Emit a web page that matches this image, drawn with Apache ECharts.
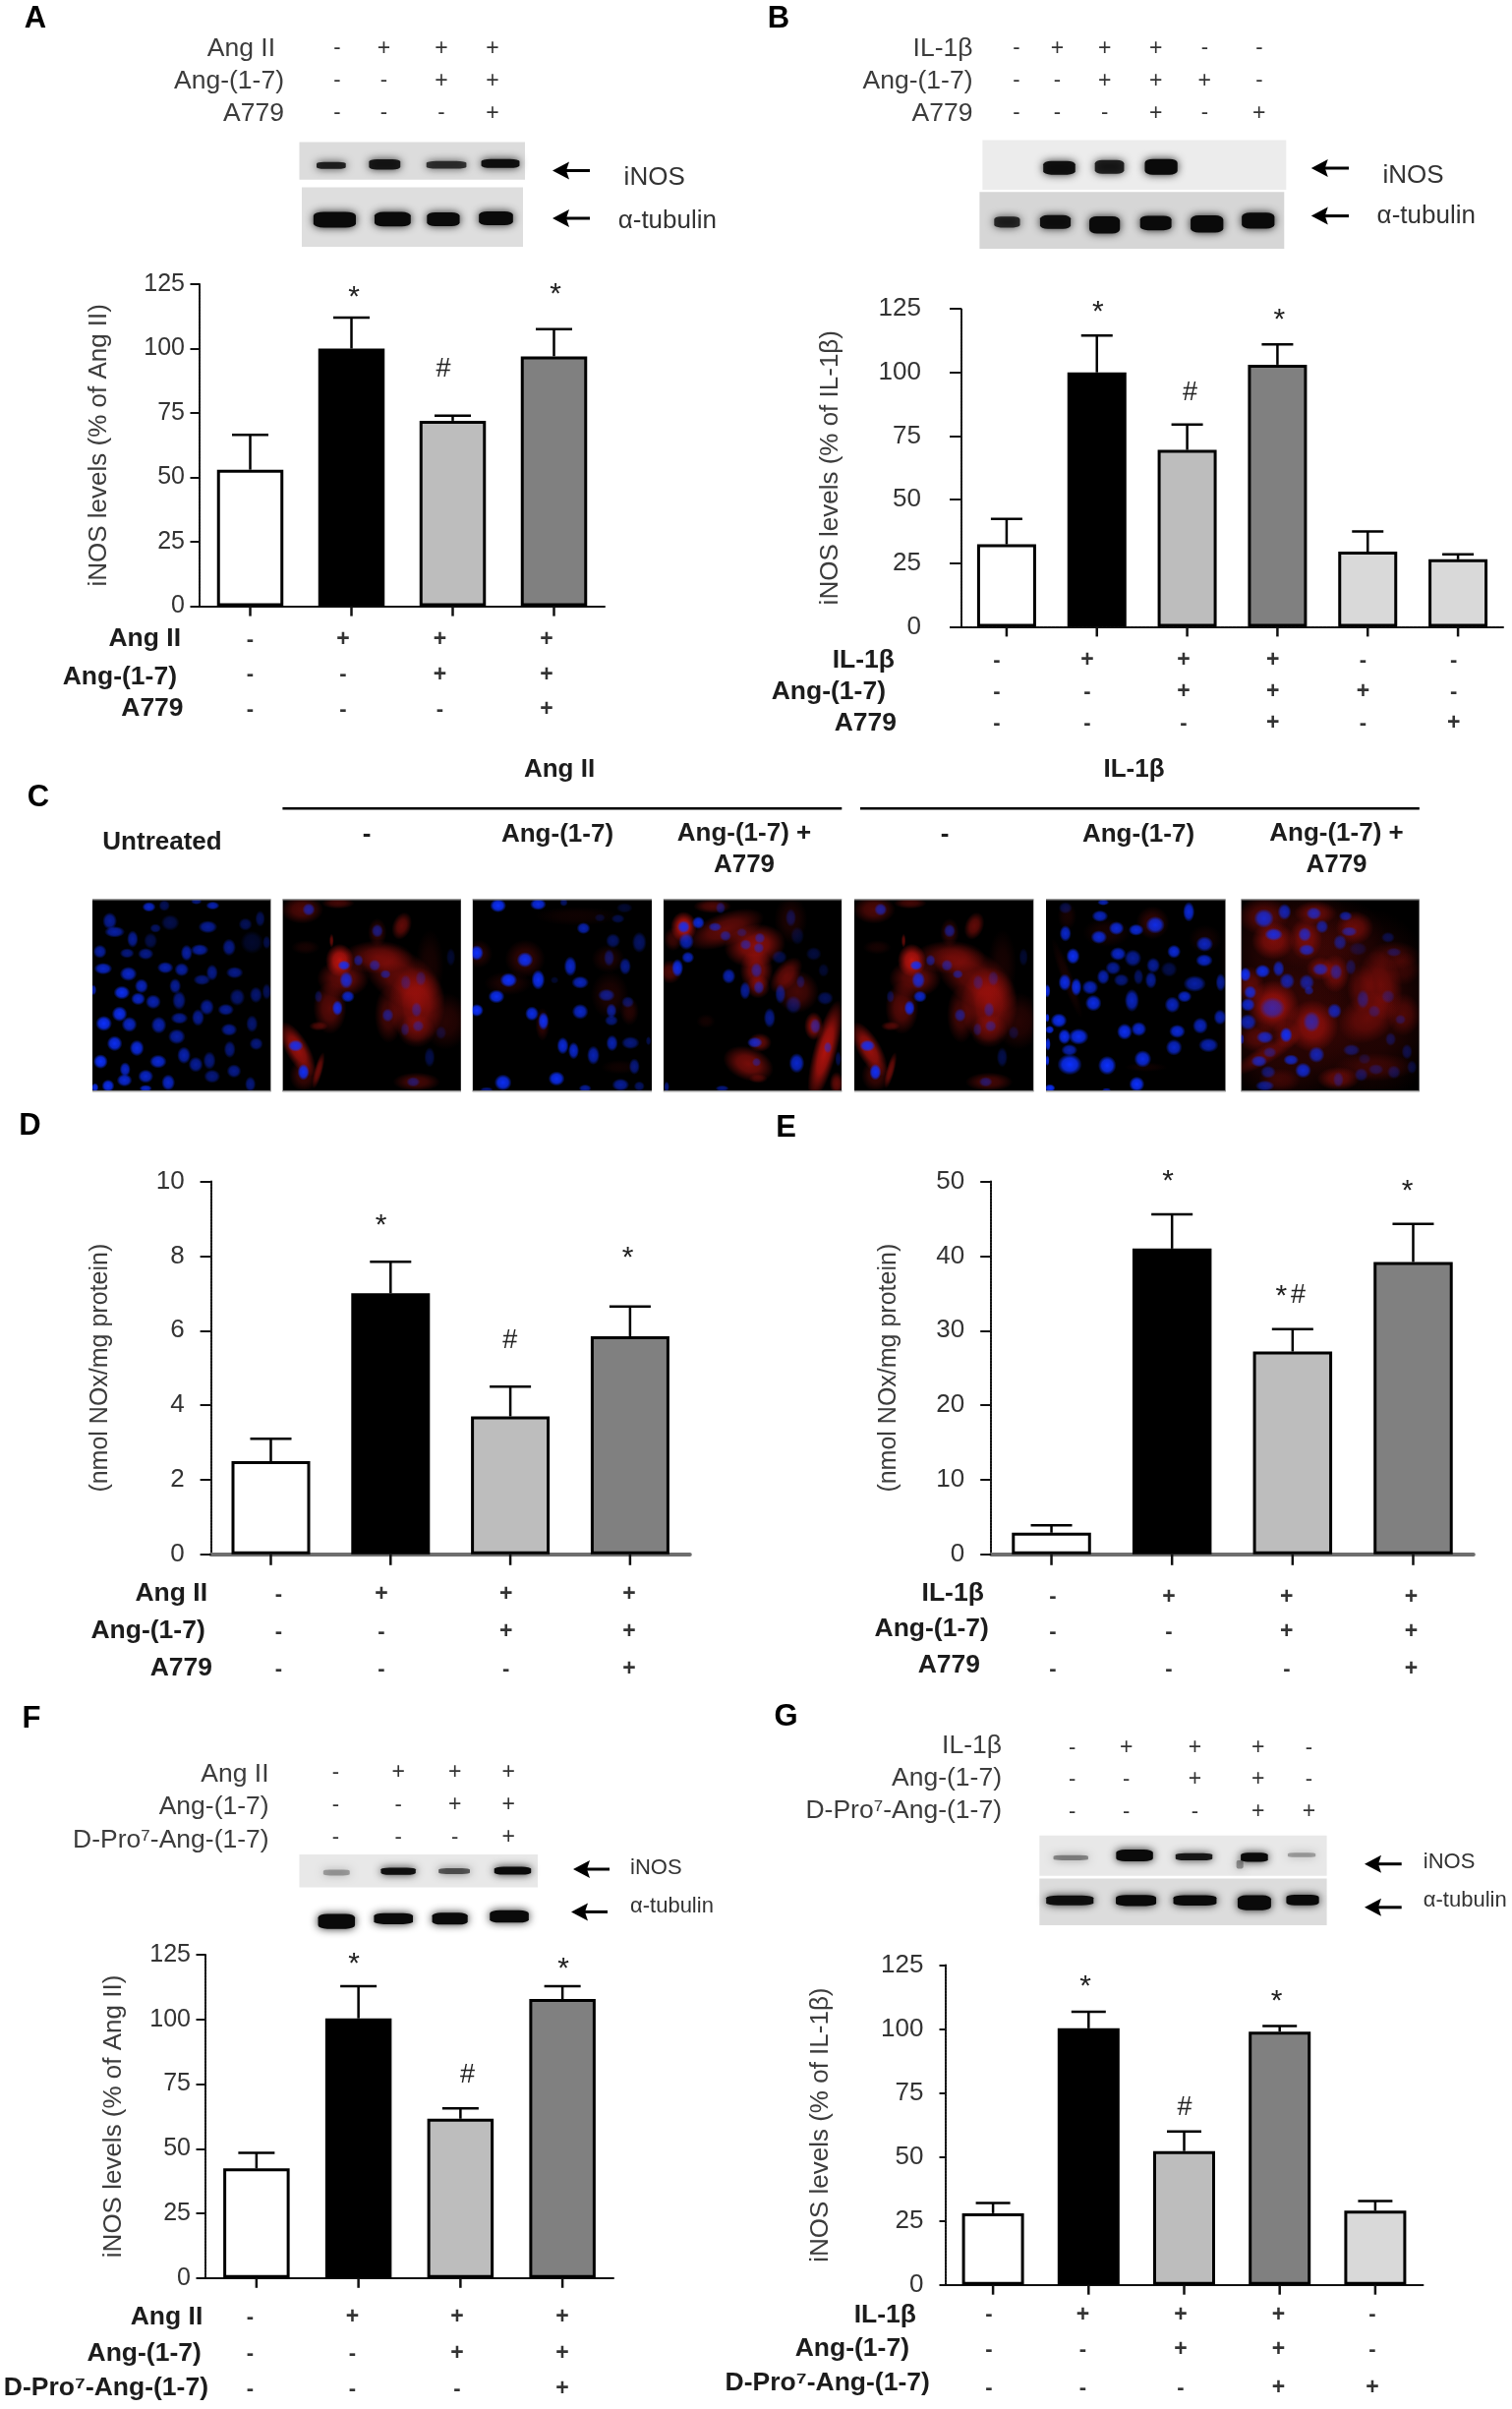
<!DOCTYPE html>
<html><head><meta charset="utf-8"><style>html,body{margin:0;padding:0;background:#fff}#c{width:1538px;height:2450px}</style>
<script src="https://cdn.jsdelivr.net/npm/echarts@6/dist/echarts.min.js"></script></head>
<body><div id="c"></div>
<script>
// ---------- DATA ----------
const categoriesAng = ['Untreated','Ang II','Ang II + Ang-(1-7)','Ang II + Ang-(1-7) + A779'];
const categoriesIl = ['Untreated','IL-1β','IL-1β + Ang-(1-7)','IL-1β + Ang-(1-7) + A779'];
const categoriesB = ['Untreated','IL-1β','IL-1β + Ang-(1-7)','IL-1β + Ang-(1-7) + A779','Ang-(1-7)','A779'];
const categoriesF = ['Untreated','Ang II','Ang II + Ang-(1-7)','Ang II + Ang-(1-7) + D-Pro7'];
const categoriesG = ['Untreated','IL-1β','IL-1β + Ang-(1-7)','IL-1β + Ang-(1-7) + D-Pro7','D-Pro7'];

const valuesA = [53, 100, 72, 97];
const errorTopA = [66.5, 112, 74, 107.5];
const valuesB = [32.4, 100, 69.5, 103, 29.5, 26.5];
const errorTopB = [42.4, 114.5, 79.5, 111, 37.5, 28.5];
const valuesD = [2.5, 7.0, 3.7, 5.85];
const errorTopD = [3.1, 7.85, 4.5, 6.65];
const valuesE = [2.9, 41, 27.2, 39.2];
const errorTopE = [3.9, 45.6, 30.2, 44.3];
const valuesF = [42.4, 100.4, 61.6, 107.9];
const errorTopF = [48.4, 112.8, 65.6, 112.8];
const valuesG = [28, 100.3, 52.3, 99, 29];
const errorTopG = [32, 106.8, 60, 101.2, 32.8];

const barColorsB = ['#ffffff','#000000','#bdbdbd','#808080','#d9d9d9','#d9d9d9'];

const rowsAng = ['Ang II','Ang-(1-7)','A779'];
const rowsIl = ['IL-1β','Ang-(1-7)','A779'];
const rowsAngPro = ['Ang II','Ang-(1-7)','D-Pro⁷-Ang-(1-7)'];
const rowsIlPro = ['IL-1β','Ang-(1-7)','D-Pro⁷-Ang-(1-7)'];
const signs4 = [['-','+','+','+'],['-','-','+','+'],['-','-','-','+']];
const signs6 = [['-','+','+','+','-','-'],['-','-','+','+','+','-'],['-','-','-','+','-','+']];
const signs5 = [['-','+','+','+','-'],['-','-','+','+','-'],['-','-','-','+','+']];

// ---------- western blot bands: x, y, w, h, strength, in the picture's own units ----------
const bandsAiNOS = [[686,347,84,20,.85],[797,345,90,30,.9],[925,346,115,22,.75],[1037,343,110,26,.95]];
const bandsATub = [[693,461,122,46,1],[813,460,104,42,1],[918,460,94,40,1],[1027,458,98,40,1]];
const bandsBiNOS = [[626,352,92,40,.95],[730,350,84,40,.85],[837,350,94,46,1]];
const bandsBTub = [[518,466,74,32,.8],[618,466,88,40,.95],[720,472,88,50,1],[826,468,90,42,1],[932,470,94,50,1],[1038,463,94,46,1]];
const bandsFiNOS = [[697,380,76,18,.3],[825,377,100,22,.95],[941,377,90,18,.6],[1062,376,106,24,1]];
const bandsFTub = [[697,488,106,46,1],[815,482,112,34,1],[932,482,102,36,1],[1055,477,112,38,1]];
const bandsGiNOS = [[650,347,100,16,.4],[782,342,106,36,1],[905,345,106,22,.9],[1030,346,78,28,1],[1128,341,80,14,.3],[1000,362,20,26,.35]];
const bandsGTub = [[648,442,136,30,.95],[785,442,116,34,1],[907,442,124,32,1],[1030,447,96,46,1],[1130,441,94,32,1]];

// ---------- micrograph spots: x, y, w, h, strength (optional rotation) ----------
const nuclei1 = [[185,32,30,22,.8],[232,28,25,25,.35],[380,28,30,18,.7],[330,15,25,14,.5],[65,75,32,38,.6],[80,108,45,25,.65],[365,93,42,28,.6],[135,130,25,38,.6],[250,80,40,35,.3],[205,97,25,20,.4],[190,135,30,35,.3],[430,155,30,38,.55],[340,163,40,26,.65],[300,172,26,36,.65],[175,175,35,26,.55],[118,173,32,22,.5],[35,168,30,30,.65],[500,140,50,50,.18],[480,85,30,28,.35],[525,68,22,36,.35],[545,140,18,30,.3],[45,220,40,26,.8],[122,236,38,32,.8],[235,217,36,26,.7],[285,223,32,30,.65],[378,232,26,36,.55],[447,232,38,26,.55],[347,254,38,24,.5],[162,273,30,32,.75],[265,273,26,34,.6],[15,285,14,24,.7],[102,293,36,30,.95],[152,312,32,28,.8],[198,321,34,32,.7],[277,317,30,42,.55],[455,307,34,38,.45],[512,300,28,36,.45],[545,290,20,36,.35],[362,337,32,36,.6],[420,345,36,26,.6],[95,358,34,34,.95],[47,387,36,34,1],[125,390,34,34,.8],[215,392,34,38,.7],[278,371,38,26,.6],[335,369,28,38,.6],[500,388,26,38,.45],[430,406,36,28,.6],[270,427,38,34,.65],[80,448,34,34,.95],[148,462,32,36,.9],[432,466,26,38,.5],[513,449,30,28,.5],[292,484,30,38,.7],[213,503,38,30,.85],[37,503,32,32,1],[370,500,28,40,.5],[328,512,32,34,.6],[445,532,32,30,.55],[112,527,24,32,.8],[110,560,34,28,.85],[175,548,34,30,.8],[378,548,36,30,.5],[244,567,30,36,.8],[60,577,28,28,.95],[175,585,28,16,.8],[495,572,24,34,.5],[20,582,16,20,.9]];
const cells2 = [[765,195,60,70,.95],[775,250,110,80,.5],[735,340,70,110,.45],[880,185,150,70,.45],[960,250,200,110,.5,-35],[1000,330,120,160,.65],[915,360,60,120,.35],[1000,410,80,70,.35],[1090,380,100,120,.2],[650,40,90,60,.4],[760,20,70,25,.35],[955,90,40,60,.5,-20],[635,465,50,130,.8,30],[655,545,60,70,.3],[700,530,18,80,.55,-15],[700,395,40,20,.4],[1000,565,100,40,.35],[1040,210,60,150,.12],[660,155,60,30,.12],[740,135,10,30,.5],[880,110,40,60,.25]];
const nuclei2 = [[670,40,28,28,.6],[880,105,26,30,.5],[778,210,28,22,.9],[785,255,30,38,.8],[790,305,30,26,.8],[758,340,24,34,.9],[822,195,22,26,.5],[872,210,26,26,.5],[905,237,24,20,.5],[967,262,24,34,.3],[1013,250,24,34,.3],[1000,345,24,34,.4],[1005,395,26,26,.4],[912,362,26,30,.5],[630,455,34,26,.9],[654,535,26,36,.95],[990,565,30,22,.4],[1040,490,24,44,.3],[965,405,20,30,.3],[700,305,18,28,.3],[1075,415,24,30,.2],[1105,185,20,40,.2]];
const cells3 = [[172,190,85,80,.25],[30,175,60,60,.2],[120,265,100,50,.15],[425,190,70,60,.15],[430,300,80,100,.15],[490,350,40,60,.2],[225,390,30,70,.25],[330,60,180,40,.08],[460,520,80,30,.08]];
const nuclei3 = [[90,28,36,30,1],[212,24,36,26,.9],[290,18,18,18,.4],[350,97,30,26,.7],[440,135,32,32,.4],[520,140,32,46,.4],[475,35,36,22,.2],[455,68,30,20,.3],[400,65,24,18,.2],[25,172,30,34,1],[172,193,36,34,.95],[310,213,28,44,.8],[428,187,24,38,.4],[477,213,26,38,.55],[122,255,38,32,1],[212,254,30,44,.95],[340,262,38,28,.75],[262,255,18,16,.2],[85,305,36,30,.95],[25,347,30,28,1],[420,301,38,28,.55],[485,322,28,26,.4],[193,357,30,32,.9],[340,351,36,34,.8],[228,380,24,40,.95],[435,348,24,32,.6],[435,378,30,24,.5],[287,455,26,38,.85],[320,470,24,38,.8],[380,484,28,42,.7],[437,447,26,36,.7],[493,446,40,28,.5],[505,518,24,36,.5],[548,440,12,20,.3],[105,567,38,36,.95],[268,555,36,32,.95],[355,585,28,18,.6],[463,574,38,28,.6],[520,578,24,22,.4],[55,590,30,14,.5]];
const cells4 = [[652,93,55,65,.95],[610,230,50,50,.4],[620,130,40,50,.3],[780,100,170,70,.5,20],[870,150,130,90,.7,10],[875,225,70,90,.6],[880,275,50,50,.45],[1000,290,90,90,.35],[965,240,50,90,.5,-40],[1085,470,50,220,.9,-15],[1050,395,40,60,.7],[850,510,110,70,.6,-20],[885,445,50,40,.5],[740,30,80,30,.4],[980,70,70,100,.15],[720,380,40,30,.1],[880,555,40,20,.3],[1120,570,30,50,.5]];
const nuclei4 = [[765,35,22,26,.4],[697,80,28,28,.85],[748,93,30,20,.6],[780,120,26,24,.5],[652,93,28,28,.9],[660,137,34,38,.7],[665,186,28,26,.75],[633,218,26,40,.9],[830,110,24,20,.3],[842,147,26,24,.5],[885,127,24,24,.5],[882,157,24,24,.5],[875,225,26,34,.5],[790,243,30,34,.7],[840,287,24,40,.6],[882,277,24,30,.55],[948,297,24,44,.5],[988,330,36,40,.35],[915,370,26,44,.55],[1085,310,36,30,.35],[1055,395,24,34,.5],[1093,460,18,26,.5],[870,445,34,24,.75],[875,505,20,20,.4],[998,508,34,44,.8],[980,65,24,40,.3],[1000,120,30,40,.2],[945,185,34,30,.3],[1050,175,34,30,.25],[1080,225,24,30,.2],[1125,495,14,34,.3],[770,585,30,14,.5],[600,580,12,24,.5],[1010,260,20,30,.3]];
const cells6 = [[920,80,70,70,.25],[780,110,100,60,.12],[660,60,40,60,.12],[1080,130,70,60,.1],[660,250,25,180,.12,20],[900,520,90,20,.08]];
const nuclei6 = [[770,18,26,14,.7],[1030,47,26,44,.85],[760,60,36,26,.75],[655,35,30,26,.3],[928,87,42,38,.9],[810,97,34,30,.85],[870,102,34,26,.85],[655,113,26,36,.8],[757,124,36,30,.85],[1078,145,38,34,.75],[985,168,30,30,.85],[815,175,36,30,.8],[860,188,38,38,.6],[678,182,30,36,.95],[1077,195,38,28,.8],[800,218,34,30,.6],[922,210,30,34,.6],[970,222,36,34,.3],[770,245,28,34,.7],[877,245,22,36,.4],[915,255,26,38,.6],[825,255,34,28,.5],[653,262,28,38,.9],[1048,266,50,36,.65],[688,276,24,40,.9],[730,277,36,32,.75],[1127,262,22,40,.6],[600,288,14,30,.9],[857,317,32,50,.75],[740,325,36,36,.9],[1017,305,32,26,.8],[980,330,34,36,.75],[635,378,36,32,.95],[600,370,10,20,.9],[1125,368,28,34,.7],[1065,394,34,36,.75],[607,406,20,18,.9],[835,412,34,36,.95],[878,404,34,32,.85],[995,411,36,30,.85],[652,427,28,34,.95],[695,427,44,36,.95],[985,460,36,36,.8],[1090,453,44,32,.7],[667,468,36,26,.7],[602,450,12,30,.9],[668,512,54,46,1],[782,515,40,42,1],[890,495,38,38,.9],[600,500,10,24,.9],[872,572,34,34,1],[608,584,24,18,1],[780,590,20,10,.6]];
const cells7 = [[160,170,300,310,.2],[160,430,300,300,.22],[400,340,300,420,.2],[280,120,240,170,.15],[110,135,90,80,.55],[360,95,80,70,.45],[240,50,90,50,.4],[80,60,110,80,.35],[110,335,110,110,.7],[230,395,110,110,.6],[40,270,60,80,.4],[300,235,60,80,.45],[255,220,60,50,.4],[440,270,90,150,.45,10],[400,370,130,100,.4,30],[510,360,70,90,.3],[210,130,70,90,.45],[90,480,170,40,.35,30],[310,555,90,50,.45],[480,180,110,60,.22],[510,220,70,70,.2],[380,280,60,100,.3],[60,430,80,60,.3],[150,420,60,60,.3],[420,520,170,60,.22],[130,560,90,50,.22]];
const nuclei7 = [[82,67,44,42,.8],[145,47,30,36,.7],[235,52,34,28,.7],[332,60,30,22,.6],[343,107,36,22,.55],[260,92,28,30,.6],[112,116,40,28,.85],[207,116,30,32,.7],[213,163,36,26,.7],[315,140,30,34,.5],[462,125,30,24,.3],[480,170,34,20,.3],[370,160,40,30,.2],[25,238,26,32,.95],[78,228,34,30,.9],[127,220,26,36,.7],[153,258,34,36,.65],[255,222,36,28,.65],[303,230,28,36,.5],[213,262,34,36,.6],[220,287,22,20,.5],[348,215,24,36,.3],[40,292,28,30,.8],[33,330,32,30,.8],[108,340,56,48,.6],[298,349,32,34,.7],[385,313,28,42,.4],[462,305,30,30,.3],[420,350,28,28,.3],[500,375,24,22,.3],[33,383,38,36,.7],[228,382,38,46,.6],[150,422,28,34,.95],[85,429,38,28,.75],[470,435,24,30,.3],[100,475,30,24,.4],[243,482,36,36,.7],[165,498,34,24,.75],[67,502,36,26,.7],[350,468,38,26,.4],[202,530,36,34,.8],[95,535,34,28,.45],[380,543,30,30,.35],[425,527,34,24,.3],[480,535,30,30,.3],[520,473,24,34,.3],[535,520,22,30,.25],[85,577,42,24,.55],[310,558,24,34,.35],[15,435,10,24,.6],[390,495,28,24,.2]];

// ---------- ENGINE ----------
const FONT = '"Liberation Sans", Arial, sans-serif';
const grids=[], xAxes=[], yAxes=[], series=[], gfx=[];
const soft=(c,a,m)=>({type:'radial',x:.5,y:.5,r:.5,colorStops:[{offset:0,color:`rgba(${c},${a})`},{offset:m,color:`rgba(${c},${a*.8})`},{offset:1,color:`rgba(${c},0)`}]});

function chart(o){
  const idx=grids.length, tick=o.tick||10;
  grids.push({left:o.x0,top:o.yTop,width:o.x1-o.x0,height:o.y0-o.yTop,containLabel:false});
  xAxes.push({gridIndex:idx,type:'category',data:o.cats,
    axisLine:{onZero:false,lineStyle:{color:o.xColor||'#111',width:o.xWidth||2,type:o.xType||'solid'}},
    axisTick:{show:false},axisLabel:{show:false},splitLine:{show:false}});
  yAxes.push({gridIndex:idx,type:'value',min:0,max:o.max,interval:o.step,
    name:o.yName,nameLocation:'middle',nameGap:o.nameGap,nameMoveOverlap:false,
    nameTextStyle:{fontFamily:FONT,fontSize:o.nameSize||26,color:'#3c3c3c'},
    axisLine:{show:true,lineStyle:{color:'#111',width:2,type:[2,1]}},
    axisTick:{show:true,length:o.ytick||9.5,lineStyle:{color:'#111',width:2}},
    axisLabel:{fontFamily:FONT,fontSize:o.labelSize||26,color:'#333',margin:o.margin,
      padding:o.shift>0?[2*o.shift,0,0,0]:[0,0,-2*o.shift,0]},splitLine:{show:false}});
  series.push({type:'bar',xAxisIndex:idx,yAxisIndex:idx,barWidth:o.barW,silent:true,
    data:o.vals.map((v,i)=>({value:v,itemStyle:{color:barColorsB[i],borderColor:'#000',borderWidth:3}}))});
  series.push({type:'custom',xAxisIndex:idx,yAxisIndex:idx,silent:true,z:3,clip:false,
    data:o.vals.map((v,i)=>[i,v,o.errs[i]]),encode:{x:0,y:[1,2]},
    renderItem:(p,api)=>{
      const a=api.coord([api.value(0),api.value(1)]),b=api.coord([api.value(0),api.value(2)]);
      const st={stroke:'#000',lineWidth:2.5};
      return {type:'group',children:[
        {type:'line',shape:{x1:a[0],y1:a[1],x2:b[0],y2:b[1]},style:st},
        {type:'line',shape:{x1:b[0]-o.cap/2,y1:b[1],x2:b[0]+o.cap/2,y2:b[1]},style:st}]};
    }});
  // x ticks, hanging below the axis at each category centre
  series.push({type:'scatter',xAxisIndex:idx,yAxisIndex:idx,silent:true,clip:false,z:6,
    data:o.vals.map((v,i)=>[i,0]),symbol:'rect',symbolSize:[2.5,tick],symbolOffset:[0,tick/2],
    itemStyle:{color:'#111',opacity:1}});
}

function image(o){
  const idx=grids.length;
  grids.push({left:o.box[0],top:o.box[1],width:o.box[2]-o.box[0],height:o.box[3]-o.box[1],show:true,backgroundColor:o.bg,borderWidth:0,containLabel:false});
  xAxes.push({gridIndex:idx,type:'value',min:o.range[0],max:o.range[1],show:false,splitLine:{show:false}});
  yAxes.push({gridIndex:idx,type:'value',min:o.range[2],max:o.range[3],inverse:true,show:false,splitLine:{show:false}});
  o.layers.forEach(l=>{
    series.push({type:'scatter',xAxisIndex:idx,yAxisIndex:idx,silent:true,clip:true,z:l.z||2,
      data:l.data.map(d=>({value:[d[0],d[1],d[2],d[3],d[5]||0],itemStyle:{opacity:d[4]}})),
      symbol:l.symbol||'circle',
      symbolSize:v=>[v[2]*(l.grow||1)/o.sx,v[3]*(l.grow||1)/o.sy],
      symbolRotate:v=>v[4],
      itemStyle:Object.assign({color:l.color},l.style||{})});
  });
}
const bandLayer=(data)=>({data,color:'#0a0a0a',symbol:'roundRect',grow:.72,style:{shadowBlur:9,shadowColor:'rgba(0,0,0,.85)'}});

function txt(x,y,text,size,opt){
  opt=opt||{};
  gfx.push({type:'text',x,y,silent:true,z:20,style:{text,fontFamily:FONT,fontSize:size,fontWeight:opt.w||'normal',
    fill:opt.c||'#333',align:opt.a||'center',verticalAlign:'middle'}});
}
function letter(x,y,t){txt(x,y,t,31,{w:'bold',c:'#000'});}
function star(x,y){txt(x,y+7,'*',30,{c:'#222'});}
function hash(x,y){txt(x,y,'#',27,{c:'#222'});}
function arrow(x1,x2,y){
  gfx.push({type:'line',silent:true,z:20,shape:{x1:x1+10,y1:y,x2:x2,y2:y},style:{stroke:'#000',lineWidth:3}});
  gfx.push({type:'polygon',silent:true,z:20,shape:{points:[[x1,y],[x1+17,y-9],[x1+14,y],[x1+17,y+9]]},style:{fill:'#000'}});
}
function signBlock(labels,signs,rights,rowY,cols,signY,bold){
  labels.forEach((t,r)=>{
    txt(rights[r],rowY[r],t,26.5,{a:'right',w:bold?'bold':'normal',c:bold?'#1c1c1c':'#3c3c3c'});
    signs[r].forEach((s,c)=>txt(cols[c],signY[r],s,s==='+'?23:22,{w:bold?'bold':'normal',c:'#333'}));
  });
}

// ---------- PANEL A ----------
letter(36,19,'A');
signBlock(rowsAng,signs4,[280,289,289],[49.4,82.4,115.4],[343,390.5,449,501],[49.4,82.4,115.4],false);
image({box:[304.5,144.5,534,182.7],range:[620,1088,298,377],sx:2.036,sy:2.063,bg:'#dcdcdc',layers:[bandLayer(bandsAiNOS)]});
image({box:[307,190.5,532,251],range:[625,1083,393,518],sx:2.036,sy:2.063,bg:'#dedede',layers:[bandLayer(bandsATub)]});
arrow(562,600,173.5);arrow(562,600,222);
txt(634.6,181,'iNOS',26,{a:'left'});txt(628.7,225,'α-tubulin',26,{a:'left'});
chart({cats:categoriesAng,vals:valuesA,errs:errorTopA,x0:203,x1:615,yTop:289,y0:616.6,max:125,step:25,barW:67.5,cap:37,
  yName:'iNOS levels (% of Ang II)',nameGap:89,margin:15,shift:-1,labelSize:25});
star(360,296);star(565,293);hash(451,376);
signBlock(rowsAng,signs4,[184,180,186.6],[649.5,688.3,721],[254.4,349,447.5,556],[650.5,686.4,722],true);

// ---------- PANEL B ----------
letter(792,19,'B');
signBlock(rowsIl,signs6,[989.5,989.5,989.5],[49.4,82.4,115.4],[1034,1075.5,1123.6,1175.7,1225.3,1280.8],[49.4,82.4,115.4],false);
image({box:[999.4,142.5,1308.3,193],range:[467,1096,294,398],sx:2.036,sy:2.063,bg:'#ececec',layers:[bandLayer(bandsBiNOS)]});
image({box:[996.4,195.3,1306.3,253],range:[461,1092,403,522],sx:2.036,sy:2.063,bg:'#d6d6d6',layers:[bandLayer(bandsBTub)]});
arrow(1333.8,1372,171);arrow(1333.8,1372,219.6);
txt(1406.5,178.4,'iNOS',26,{a:'left'});txt(1400.6,220,'α-tubulin',26,{a:'left'});
chart({cats:categoriesB,vals:valuesB,errs:errorTopB,x0:978,x1:1529,yTop:314,y0:637.4,max:125,step:25,barW:60,cap:32,
  yName:'iNOS levels (% of IL-1β)',nameGap:120,margin:41,shift:5,xType:[3,1],ytick:12});
star(1116.8,311);star(1301.4,318.5);hash(1210.6,399.4);
signBlock(rowsIl,signs6,[910,901,912],[672,704,736],[1014,1106,1204,1294.6,1386.4,1478.7],[672,704,736],true);

// ---------- PANEL C ----------
letter(39,811.7,'C');
txt(569,782.7,'Ang II',26,{w:'bold',c:'#1c1c1c'});txt(1153.5,782.7,'IL-1β',26,{w:'bold',c:'#1c1c1c'});
[[287.4,856.3],[875,1443.8]].forEach(s=>gfx.push({type:'line',silent:true,z:20,shape:{x1:s[0],y1:822.3,x2:s[1],y2:822.3},style:{stroke:'#000',lineWidth:2.5}}));
txt(165,857,'Untreated',26,{w:'bold',c:'#1c1c1c'});
[[373,849,'-'],[567,849,'Ang-(1-7)'],[757,848,'Ang-(1-7) +'],[757,880,'A779'],[961,849,'-'],[1158,849,'Ang-(1-7)'],[1359.5,848,'Ang-(1-7) +'],[1359.5,880,'A779']]
  .forEach(t=>txt(t[0],t[1],t[2],26,{w:'bold',c:'#1c1c1c'}));
const RED=soft('205,22,16',.95,.45), BLUE=soft('12,48,255',1,.6), VIEW=[915,1110];
const microBoxes=[[94,275.6],[287.4,468.9],[480.6,663],[674.8,856.3],[869,1051.5],[1064,1246.7],[1262.4,1443.8]];
const micro=(i,rx0,rx1,cells,nuc)=>image({box:[microBoxes[i][0],VIEW[0],microBoxes[i][1],VIEW[1]],range:[rx0,rx1,10,594],sx:3,sy:3,bg:'#000',
  layers:[{data:cells,color:RED,grow:1.45,z:2},{data:nuc,color:BLUE,grow:1.4,z:3}]});
micro(0,12,558,[],nuclei1);
micro(1,590,1136,cells2,nuclei2);
micro(2,12,558,cells3,nuclei3);
micro(3,590,1136,cells4,nuclei4);
micro(4,590,1136,cells2,nuclei2);
micro(5,596,1142,cells6,nuclei6);
micro(6,12,558,cells7,nuclei7);
// white frame trims soft spots to each micrograph, with the thin grey image edge
const mask=(x,y,w,h,f)=>gfx.push({type:'rect',silent:true,z:15,shape:{x,y,width:w,height:h},style:{fill:f||'#fff'}});
mask(40,893,54,240);mask(1443.8,893,60,240);
microBoxes.forEach((b,i)=>{ if(i<6) mask(b[1],893,microBoxes[i+1][0]-b[1],240); });
mask(40,893,1464,22);mask(40,1110,1464,23);
microBoxes.forEach(b=>{ mask(b[0],914,b[1]-b[0],1.5,'#9a9a9a'); mask(b[0],1109,b[1]-b[0],1.5,'#9a9a9a'); });

// ---------- PANEL D ----------
letter(30.5,1145,'D');
chart({cats:categoriesAng,vals:valuesD,errs:errorTopD,x0:214.6,x1:701.8,yTop:1201.6,y0:1580.8,max:10,step:2,barW:80,cap:42,
  yName:'(nmol NOx/mg protein)',nameGap:100,nameSize:25,margin:27,shift:-8,xColor:'#6e6e6e',xWidth:4,xType:[2,1],ytick:11,tick:11});
star(387.5,1239.8);star(638.5,1272.7);hash(518.7,1363.4);
signBlock(rowsAng,signs4,[211,208.7,216],[1620.6,1659,1696.4],[283.4,388,514.7,640],[1621.8,1660,1697.5],true);

// ---------- PANEL E ----------
letter(799.5,1147,'E');
chart({cats:categoriesIl,vals:valuesE,errs:errorTopE,x0:1008.2,x1:1498.8,yTop:1201.6,y0:1580.8,max:50,step:10,barW:80.5,cap:42,
  yName:'(nmol NOx/mg protein)',nameGap:92,nameSize:25,margin:27,shift:-5,xColor:'#6e6e6e',xWidth:4,xType:[2,1],ytick:11,tick:11});
star(1188,1195);star(1431.6,1204.6);star(1303.4,1311.8);hash(1320.6,1317.5);
signBlock(rowsIl,signs4,[1000.8,1005.8,997],[1621,1657,1693.7],[1071,1189,1308.8,1435.5],[1624.4,1660,1697.5],true);

// ---------- PANEL F ----------
letter(32,1748.4,'F');
signBlock(rowsAngPro,signs4,[273.6,273.6,273.6],[1804.8,1838,1871.4],[341.4,405.2,462.7,517.2],[1802.5,1835.6,1869],false);
image({box:[304.5,1886,547,1919.6],range:[620,1114,340,413],sx:2.036,sy:2.178,bg:'#e8e8e8',layers:[bandLayer(bandsFiNOS)]});
image({box:[304.5,1936.6,547,1968.8],range:[620,1114,450,520],sx:2.036,sy:2.178,bg:'#ffffff',layers:[bandLayer(bandsFTub)]});
arrow(583,620,1901);arrow(581,618,1944.4);
txt(641,1900,'iNOS',22,{a:'left'});txt(641,1939,'α-tubulin',22,{a:'left'});
chart({cats:categoriesF,vals:valuesF,errs:errorTopF,x0:209,x1:624,yTop:1988,y0:2316.8,max:125,step:25,barW:67.5,cap:37,
  yName:'iNOS levels (% of Ang II)',nameGap:80,margin:15,shift:2,labelSize:25});
star(360,1990.8);star(573,1995.4);hash(475.4,2111);
signBlock(rowsAngPro,signs4,[206.3,204.8,212],[2357,2393.5,2428.8],[254.4,358.5,465,572],[2357,2393.5,2430],true);

// ---------- PANEL G ----------
letter(799.5,1746,'G');
signBlock(rowsIlPro,signs5,[1019,1019,1019],[1776,1809,1841.6],[1090.7,1145.7,1215.5,1279.8,1331.4],[1778,1810,1842.5],false);
image({box:[1057.3,1866.8,1349.6,1907.7],range:[585,1180,298,387],sx:2.036,sy:2.178,bg:'#e8e8e8',layers:[bandLayer(bandsGiNOS)]});
image({box:[1057.3,1910.4,1349.6,1958],range:[585,1180,393,497],sx:2.036,sy:2.178,bg:'#dcdcdc',layers:[bandLayer(bandsGTub)]});
arrow(1388,1425.7,1895.7);arrow(1388,1425.7,1939.8);
txt(1447.8,1894.4,'iNOS',22,{a:'left'});txt(1447.8,1933.4,'α-tubulin',22,{a:'left'});
chart({cats:categoriesG,vals:valuesG,errs:errorTopG,x0:961.5,x1:1447.5,yTop:1998.6,y0:2323.7,max:125,step:25,barW:63,cap:35,
  yName:'iNOS levels (% of IL-1β)',nameGap:114,margin:22,shift:2,xType:[3,1],ytick:6});
star(1104,2013.3);star(1298.5,2028.4);hash(1205,2144);
signBlock(rowsIlPro,signs5,[932,925,945.8],[2354.4,2389,2424],[1005.8,1101.5,1201,1300.5,1396],[2354.4,2390,2428.8],true);

const c=echarts.init(document.getElementById('c'),null,{renderer:'canvas'});
c.setOption({animation:false,backgroundColor:'#fff',tooltip:{show:false},grid:grids,xAxis:xAxes,yAxis:yAxes,series,graphic:{elements:gfx}});
</script></body></html>
